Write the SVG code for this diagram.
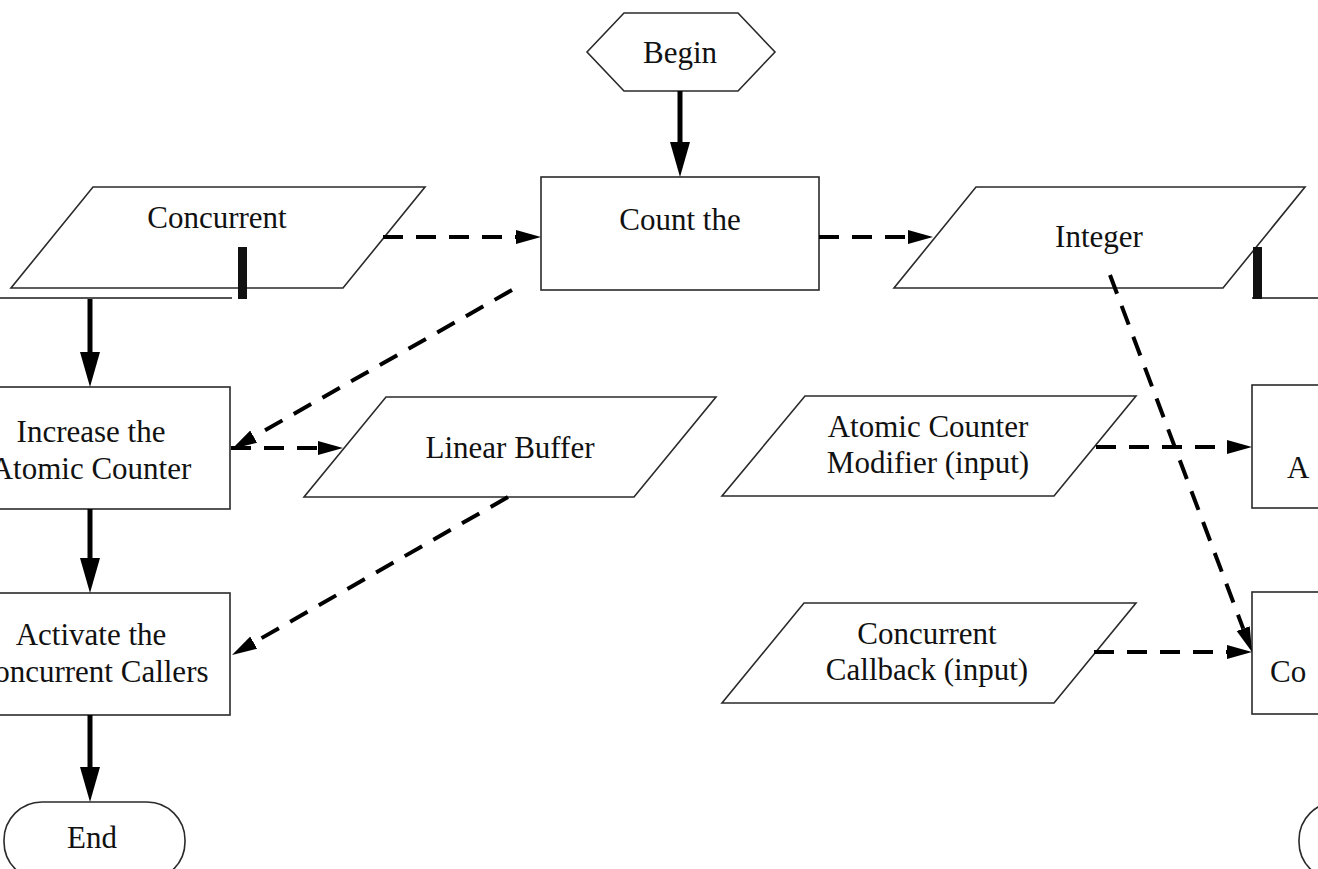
<svg xmlns="http://www.w3.org/2000/svg" width="1318" height="869" viewBox="0 0 1318 869">
  <style>
    .shape { fill: #ffffff; stroke: #2a2a2a; stroke-width: 1.6; }
    .label { font-family: "Liberation Serif", "Times New Roman", serif; font-size: 31px; fill: #111111; text-anchor: middle; }
    .label-start { font-family: "Liberation Serif", "Times New Roman", serif; font-size: 31px; fill: #111111; text-anchor: start; }
    .flow { fill: none; stroke: #000000; stroke-width: 5; }
    .data { fill: none; stroke: #000000; stroke-width: 4; stroke-dasharray: 20 13; }
    .frag { fill: none; stroke: #1a1a1a; stroke-width: 1.6; }
  </style>
  <defs>
    <marker id="head-solid" markerUnits="userSpaceOnUse" markerWidth="36" markerHeight="22" refX="0" refY="10" orient="auto">
      <path d="M0,0 L35,10 L0,20 z" fill="#000000"/>
    </marker>
    <marker id="head-dash" markerUnits="userSpaceOnUse" markerWidth="26" markerHeight="16" refX="0" refY="7" orient="auto">
      <path d="M0,0 L25,7 L0,14 z" fill="#000000"/>
    </marker>
  </defs>

  <rect width="1318" height="869" fill="#ffffff"/>

  <!-- start terminal -->
  <g id="begin">
    <polygon class="shape" points="587,52 624,13 738,13 775,52 738,91 624,91"/>
    <text class="label" x="680" y="63">Begin</text>
  </g>

  <!-- top row -->
  <g id="concurrent-top">
    <polygon class="shape" points="93,187 425,187 343,288 11,288"/>
    <text class="label" x="217" y="228">Concurrent</text>
  </g>
  <g id="count-the">
    <rect class="shape" x="541" y="177" width="278" height="113"/>
    <text class="label" x="680" y="230">Count the</text>
  </g>
  <g id="integer">
    <polygon class="shape" points="976,187 1305,187 1223,288 894,288"/>
    <text class="label" x="1099" y="247">Integer</text>
  </g>

  <!-- edge fragments on the top row -->
  <g id="top-row-edges">
    <line class="frag" x1="0" y1="298" x2="232" y2="298"/>
    <rect x="238" y="247" width="9" height="52" fill="#111111"/>
    <line class="frag" x1="1252" y1="298" x2="1318" y2="298"/>
    <rect x="1253" y="247" width="9" height="52" fill="#111111"/>
  </g>

  <!-- left column -->
  <g id="increase-counter">
    <rect class="shape" x="-48" y="387" width="278" height="122"/>
    <text class="label" x="91" y="442">Increase the</text>
    <text class="label" x="91" y="479">Atomic Counter</text>
  </g>
  <g id="activate-callers">
    <rect class="shape" x="-48" y="593" width="278" height="122"/>
    <text class="label" x="91" y="645">Activate the</text>
    <text class="label" x="91" y="682">Concurrent Callers</text>
  </g>
  <g id="end">
    <rect class="shape" x="4" y="802" width="181" height="78" rx="38" ry="38"/>
    <text class="label" x="92" y="848">End</text>
  </g>

  <!-- data in the middle -->
  <g id="linear-buffer">
    <polygon class="shape" points="386,397 716,397 634,497 304,497"/>
    <text class="label" x="510" y="458">Linear Buffer</text>
  </g>
  <g id="counter-modifier">
    <polygon class="shape" points="805,396 1136,396 1054,496 722,496"/>
    <text class="label" x="928" y="437">Atomic Counter</text>
    <text class="label" x="928" y="473">Modifier (input)</text>
  </g>
  <g id="concurrent-callback">
    <polygon class="shape" points="804,603 1136,603 1054,703 722,703"/>
    <text class="label" x="927" y="644">Concurrent</text>
    <text class="label" x="927" y="680">Callback (input)</text>
  </g>

  <!-- right column -->
  <g id="right-process-a">
    <rect class="shape" x="1252" y="385" width="278" height="123"/>
    <text class="label-start" x="1287" y="478">A</text>
  </g>
  <g id="right-process-co">
    <rect class="shape" x="1252" y="592" width="278" height="122"/>
    <text class="label-start" x="1270" y="682">Co</text>
  </g>
  <g id="right-end">
    <rect class="shape" x="1299" y="802" width="181" height="78" rx="38" ry="38"/>
  </g>

  <!-- connectors -->
  <g id="connectors">
    <!-- control flow -->
    <line class="flow" x1="680" y1="91" x2="680" y2="142" marker-end="url(#head-solid)"/>
    <line class="flow" x1="90" y1="299" x2="90" y2="352" marker-end="url(#head-solid)"/>
    <line class="flow" x1="90" y1="509" x2="90" y2="558" marker-end="url(#head-solid)"/>
    <line class="flow" x1="90" y1="715" x2="90" y2="767" marker-end="url(#head-solid)"/>

    <!-- data flow -->
    <line class="data" x1="383" y1="237" x2="516" y2="237" marker-end="url(#head-dash)"/>
    <line class="data" x1="819" y1="237" x2="908" y2="237" marker-end="url(#head-dash)"/>
    <line class="data" x1="512" y1="290" x2="253.7" y2="436.7" marker-end="url(#head-dash)"/>
    <line class="data" x1="231" y1="448" x2="318" y2="448" marker-end="url(#head-dash)"/>
    <line class="data" x1="508" y1="497" x2="253.7" y2="642.6" marker-end="url(#head-dash)"/>
    <line class="data" x1="1096" y1="447" x2="1227" y2="447" marker-end="url(#head-dash)"/>
    <line class="data" x1="1094" y1="652" x2="1227" y2="652" marker-end="url(#head-dash)"/>
    <line class="data" x1="1110" y1="275" x2="1243.2" y2="628.6" marker-end="url(#head-dash)"/>
  </g>
</svg>
